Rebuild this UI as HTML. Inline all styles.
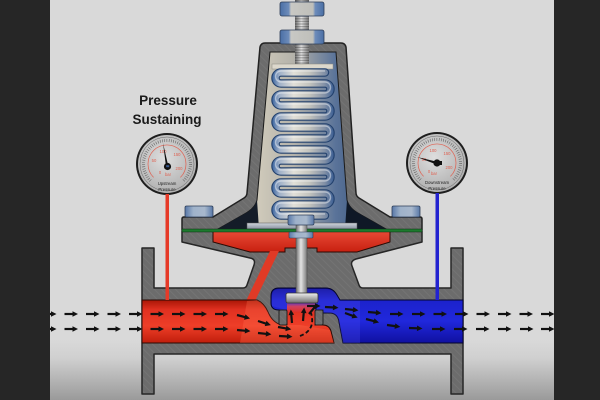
<!DOCTYPE html>
<html><head><meta charset="utf-8">
<style>
html,body{margin:0;padding:0;width:600px;height:400px;overflow:hidden;background:#d8d8d8}
svg{display:block}
</style></head><body>
<svg width="600" height="400" viewBox="0 0 600 400" xmlns="http://www.w3.org/2000/svg">
<defs>
 <linearGradient id="bgb" x1="0" y1="0" x2="0" y2="1">
  <stop offset="0" stop-color="#d9d9d9"/><stop offset="0.3" stop-color="#d0d0d0"/><stop offset="1" stop-color="#9a9a9a"/>
 </linearGradient>
 <radialGradient id="gface" cx="0.45" cy="0.4" r="0.7">
  <stop offset="0" stop-color="#dedede"/><stop offset="1" stop-color="#a9a9a9"/>
 </radialGradient>
 <linearGradient id="redp" x1="0" y1="0" x2="0" y2="1">
  <stop offset="0" stop-color="#a81606"/><stop offset="0.22" stop-color="#e03020"/><stop offset="0.6" stop-color="#ee3e28"/><stop offset="1" stop-color="#c01e0c"/>
 </linearGradient>
 <linearGradient id="redc" x1="0" y1="0" x2="0" y2="1">
  <stop offset="0" stop-color="#e84a36"/><stop offset="1" stop-color="#c82010"/>
 </linearGradient>
 <linearGradient id="bluep" x1="0" y1="0" x2="0" y2="1">
  <stop offset="0" stop-color="#0c0c8a"/><stop offset="0.22" stop-color="#1c22cc"/><stop offset="0.6" stop-color="#2028dc"/><stop offset="1" stop-color="#1010a0"/>
 </linearGradient>
 <linearGradient id="mix" x1="0" y1="0" x2="0" y2="1">
  <stop offset="0" stop-color="#4a3ad0"/><stop offset="0.4" stop-color="#d04060"/><stop offset="1" stop-color="#e03020"/>
 </linearGradient>
 <linearGradient id="cav" x1="0" y1="0" x2="1" y2="0">
  <stop offset="0" stop-color="#3d5a85"/><stop offset="0.08" stop-color="#8a96a6"/><stop offset="0.22" stop-color="#d2ccbc"/><stop offset="0.45" stop-color="#b4b2aa"/><stop offset="0.7" stop-color="#5a7399"/><stop offset="1" stop-color="#27456f"/>
 </linearGradient>
 <linearGradient id="sprg" gradientUnits="userSpaceOnUse" x1="272" y1="0" x2="334" y2="0">
  <stop offset="0" stop-color="#3a64a0"/><stop offset="0.12" stop-color="#9fb0c8"/><stop offset="0.35" stop-color="#e2e0d8"/><stop offset="0.6" stop-color="#c4c4be"/><stop offset="0.85" stop-color="#8290a6"/><stop offset="1" stop-color="#3a5e94"/>
 </linearGradient>
 <linearGradient id="rod" x1="0" y1="0" x2="1" y2="0">
  <stop offset="0" stop-color="#6f6f6f"/><stop offset="0.45" stop-color="#e4e4e4"/><stop offset="1" stop-color="#7a7a7a"/>
 </linearGradient>
 <linearGradient id="disc" x1="0" y1="0" x2="0" y2="1">
  <stop offset="0" stop-color="#f0f0f0"/><stop offset="0.5" stop-color="#b0b0b0"/><stop offset="1" stop-color="#6c6c6c"/>
 </linearGradient>
 <linearGradient id="nut" x1="0" y1="0" x2="1" y2="0">
  <stop offset="0" stop-color="#4a6fa5"/><stop offset="0.2" stop-color="#6d8cba"/><stop offset="0.25" stop-color="#c8c8c4"/><stop offset="0.75" stop-color="#bfbfba"/><stop offset="0.8" stop-color="#6d8cba"/><stop offset="1" stop-color="#4a6fa5"/>
 </linearGradient>
 <linearGradient id="bolt" x1="0" y1="0" x2="1" y2="0">
  <stop offset="0" stop-color="#5878a8"/><stop offset="0.3" stop-color="#9fb2ca"/><stop offset="0.7" stop-color="#a8b8cc"/><stop offset="1" stop-color="#5878a8"/>
 </linearGradient>
 <linearGradient id="plate" x1="0" y1="0" x2="0" y2="1">
  <stop offset="0" stop-color="#d0d6dc"/><stop offset="1" stop-color="#8890a0"/>
 </linearGradient>
 <pattern id="hatch" width="5" height="5" patternUnits="userSpaceOnUse" patternTransform="rotate(45)">
  <rect width="5" height="5" fill="#6c6c6c"/><rect width="5" height="1" fill="#747474"/>
 </pattern>
 <pattern id="thread" width="4" height="2.6" patternUnits="userSpaceOnUse">
  <rect width="4" height="1.2" fill="#000" fill-opacity="0.28"/>
 </pattern>
 <g id="ar">
  <path d="M0,0 H9" stroke="#111" stroke-width="2.2"/>
  <path d="M8,-2.8 L13.5,0 L8,2.8 Z" fill="#111"/>
 </g>
 <path id="coil" d="M325,72.5 H281 A5.5,5.5 0 0 0 281,83.5 H325 A5.5,5.5 0 0 1 325,94.5 H281 A5.5,5.5 0 0 0 281,105.5 H325 A5.5,5.5 0 0 1 325,116.5 H281 A5.5,5.5 0 0 0 281,127.5 H325 A5.5,5.5 0 0 1 325,138.5 H281 A5.5,5.5 0 0 0 281,149.5 H325 A5.5,5.5 0 0 1 325,160.5 H281 A5.5,5.5 0 0 0 281,171.5 H325 A5.5,5.5 0 0 1 325,182.5 H281 A5.5,5.5 0 0 0 281,193.5 H325 A5.5,5.5 0 0 1 325,204.5 H281 A5.5,5.5 0 0 0 281,215.5 H325" fill="none"/>
</defs>

<!-- background -->
<rect width="600" height="400" fill="#d9d9d9"/>
<rect y="340" width="600" height="60" fill="url(#bgb)"/>

<!-- title -->
<g font-family="'Liberation Sans', sans-serif" font-weight="bold" font-size="13.5" fill="#1a1a1a" text-anchor="middle">
 <text x="168" y="105">Pressure</text>
 <text x="167" y="124">Sustaining</text>
</g>

<!-- left gauge -->
<g transform="translate(167,164)">
 <circle r="31" fill="#1e1e1e"/>
 <circle r="29" fill="url(#gface)"/>
 <circle r="27" fill="none" stroke="#666" stroke-width="0.5"/>
 <path d="M-16.6,16.6 A23.5,23.5 0 1 1 16.6,16.6" fill="none" stroke="#333" stroke-width="3" pathLength="100" stroke-dasharray="0.35 1.65"/>
 <path d="M-13.4,13.4 A19,19 0 1 1 13.4,13.4" fill="none" stroke="#e06050" stroke-width="0.7"/>
 <g font-family="'Liberation Sans', sans-serif" font-size="4.2" fill="#e06050" text-anchor="middle">
  <text x="-7" y="10">0</text><text x="-13" y="-2">50</text><text x="-4" y="-11">100</text><text x="10" y="-8">150</text><text x="12" y="6">200</text>
  <text x="1" y="12">bar</text>
 </g>
 <g font-family="'Liberation Sans', sans-serif" font-size="4.3" fill="#222" text-anchor="middle">
  <text x="0" y="21">Upstream</text><text x="0" y="27">Pressure</text>
 </g>
 <path d="M-0.9,3 L-4,-21 L1.4,2.6 Z" fill="#111"/>
 <circle cx="0.5" cy="2.5" r="3.6" fill="#111"/>
 <rect x="-0.8" y="1.2" width="3" height="2" fill="#3a5a90"/>
</g>

<!-- right gauge -->
<g transform="translate(437,163)">
 <circle r="31" fill="#1e1e1e"/>
 <circle r="29" fill="url(#gface)"/>
 <circle r="27" fill="none" stroke="#666" stroke-width="0.5"/>
 <path d="M-16.6,16.6 A23.5,23.5 0 1 1 16.6,16.6" fill="none" stroke="#333" stroke-width="3" pathLength="100" stroke-dasharray="0.35 1.65"/>
 <path d="M-13.4,13.4 A19,19 0 1 1 13.4,13.4" fill="none" stroke="#e06050" stroke-width="0.7"/>
 <g font-family="'Liberation Sans', sans-serif" font-size="4.2" fill="#e06050" text-anchor="middle">
  <text x="-8" y="10">0</text><text x="-13" y="-2">50</text><text x="-4" y="-11">100</text><text x="10" y="-8">150</text><text x="12" y="6">200</text>
  <text x="-3" y="12">bar</text>
 </g>
 <g font-family="'Liberation Sans', sans-serif" font-size="4.3" fill="#222" text-anchor="middle">
  <text x="0" y="21">Downstream</text><text x="0" y="27">Pressure</text>
 </g>
 <path d="M-1,-1.5 L-20,-6 L0.2,1.8 Z" fill="#111"/>
 <circle cx="0" cy="0" r="3.6" fill="#111"/>
 <rect x="1" y="-2" width="4" height="4" fill="#111"/>
</g>

<!-- lower body -->
<path d="M142,248 L154,248 L154,288 L243,288 Q246,288 247,285 L254,265 Q256,259 250,258 L182,242 L182,231 L422,231 L422,242 L356,259 Q350,261 352,266 L359,285 Q360,288 363,288 L451,288 L451,248 L463,248 L463,394 L451,394 L451,354 L154,354 L154,394 L142,394 Z" fill="url(#hatch)" stroke="#262626" stroke-width="1.5" stroke-linejoin="round"/>

<!-- red chamber -->
<path d="M213,231 L390,231 L390,242 L357,252 L317,252 L317,248 L285,248 L285,252 L250,252 L213,242 Z" fill="url(#redc)" stroke="#2a0a05" stroke-width="1"/>
<!-- sensing passage -->
<path d="M270,251 L279,251 L255,301 L246,301 Z" fill="#e03a26"/>
<!-- red fluid -->
<path d="M142,300 L257,300 Q264,303 268,312 Q272,322 281,325 L287,325 L287,312 L315,312 L315,325 L323,325 Q329,325 331,331 L334,343 L142,343 Z" fill="url(#redp)" stroke="#2a0a05" stroke-width="1"/>
<path d="M247,301 L257,300 Q264,303 268,312 Q272,322 281,325 L300,325 L330,330 L334,343 L240,343 Z" fill="#ff7050" fill-opacity="0.3"/>
<!-- blue fluid -->
<path d="M271,296 Q271,288 279,288 L326,288 Q333,288 337,295 L340,300 L463,300 L463,343 L343,343 L339,322 Q338,314 331,313 L323,313 L323,310 L315,310 L315,312 L287,312 L287,310 L279,310 Q271,310 271,303 Z" fill="url(#bluep)" stroke="#05052a" stroke-width="1"/>
<path d="M272,296 Q272,289 279,289 L326,289 Q333,289 337,296 L340,301 L360,301 L360,343 L343,343 L339,322 Q338,314 331,313 L290,311 L272,306 Z" fill="#4a4aee" fill-opacity="0.3"/>
<!-- mixing zone -->
<rect x="287" y="302" width="28" height="11" fill="url(#mix)"/>
<!-- seat posts -->
<rect x="279" y="310" width="8" height="15" rx="1.5" fill="url(#hatch)" stroke="#222" stroke-width="1"/>
<rect x="315" y="310" width="8" height="15" rx="1.5" fill="url(#hatch)" stroke="#222" stroke-width="1"/>

<!-- sensing lines -->
<rect x="165.5" y="194" width="3.5" height="106" fill="#e63a28"/>
<rect x="435.5" y="193" width="3.5" height="107" fill="#2222d0"/>

<!-- upper housing / bonnet -->
<path d="M182,230 L182,219 Q182,217 184,217 L213,217 L244,198 Q247,196 247,193 L260,47 Q261,43 265,43 L341,43 Q345,43 346,47 L356,193 Q356,196 359,198 L390,217 L420,217 Q422,217 422,219 L422,230 Z" fill="url(#hatch)" stroke="#222" stroke-width="1.5" stroke-linejoin="round"/>
<path d="M270,52 L336,52 L347,200 Q349,208 358,213 L386,229 L218,229 L246,213 Q255,208 257,200 Z" fill="url(#cav)" stroke="#1a1a1a" stroke-width="1"/>
<path d="M218,229 L246,213 Q255,208 257,200 L259,229 Z" fill="#141c28"/>
<path d="M386,229 L358,213 Q349,208 347,200 L345,229 Z" fill="#0f1826"/>

<!-- rod -->
<rect x="295" y="0" width="14" height="70" fill="url(#rod)"/>
<rect x="295" y="0" width="14" height="70" fill="url(#thread)"/>
<!-- spring top plate -->
<rect x="272" y="64" width="61" height="5" fill="#dcd8cc" stroke="#8a8a80" stroke-width="0.5"/>

<!-- spring -->
<use href="#coil" stroke="#24426e" stroke-width="8.5" stroke-linecap="round"/>
<use href="#coil" stroke="url(#sprg)" stroke-width="6.2" stroke-linecap="round"/>
<use href="#coil" stroke="#ffffff" stroke-opacity="0.45" stroke-width="1.4" transform="translate(0,-1.6)"/>

<!-- nuts on top -->
<rect x="280" y="2" width="44" height="14" rx="2" fill="url(#nut)" stroke="#2e3e58" stroke-width="0.8"/>
<rect x="280" y="30" width="44" height="14" rx="2" fill="url(#nut)" stroke="#2e3e58" stroke-width="0.8"/>

<!-- diaphragm plate & green diaphragm -->
<rect x="247" y="223" width="110" height="6" fill="url(#plate)" stroke="#555" stroke-width="0.5"/>
<rect x="182" y="229" width="240" height="3" fill="#1d7a2e" stroke="#0d2a10" stroke-width="0.5"/>

<!-- stem -->
<rect x="296" y="222" width="11" height="72" fill="url(#rod)" stroke="#444" stroke-width="0.5"/>
<rect x="288" y="215" width="26" height="10" rx="1.5" fill="url(#bolt)" stroke="#2e3e58" stroke-width="0.7"/>
<rect x="289" y="232" width="24" height="6" rx="1" fill="url(#bolt)" stroke="#2e3e58" stroke-width="0.6"/>
<rect x="286" y="293" width="32" height="10" rx="2" fill="url(#disc)" stroke="#333" stroke-width="0.8"/>

<!-- flange bolts -->
<rect x="185" y="206" width="28" height="11" rx="1.5" fill="url(#bolt)" stroke="#2e3e58" stroke-width="0.8"/>
<rect x="392" y="206" width="28" height="11" rx="1.5" fill="url(#bolt)" stroke="#2e3e58" stroke-width="0.8"/>

<!-- flow arrows -->
<g>
 <use href="#ar" transform="translate(43,314)"/><use href="#ar" transform="translate(64.5,314)"/><use href="#ar" transform="translate(86,314)"/><use href="#ar" transform="translate(107.5,314)"/><use href="#ar" transform="translate(129,314)"/><use href="#ar" transform="translate(150.5,314)"/><use href="#ar" transform="translate(172,314)"/><use href="#ar" transform="translate(193.5,314)"/><use href="#ar" transform="translate(215,314)"/>
 <use href="#ar" transform="translate(237,315) rotate(15)"/><use href="#ar" transform="translate(258,321) rotate(18)"/><use href="#ar" transform="translate(278,327) rotate(10)"/>
 <use href="#ar" transform="translate(43,329)"/><use href="#ar" transform="translate(64.5,329)"/><use href="#ar" transform="translate(86,329)"/><use href="#ar" transform="translate(107.5,329)"/><use href="#ar" transform="translate(129,329)"/><use href="#ar" transform="translate(150.5,329)"/><use href="#ar" transform="translate(172,329)"/><use href="#ar" transform="translate(193.5,329)"/><use href="#ar" transform="translate(215,329)"/>
 <use href="#ar" transform="translate(237,330) rotate(5)"/><use href="#ar" transform="translate(258,333) rotate(6)"/><use href="#ar" transform="translate(279,336) rotate(3)"/>
 <use href="#ar" transform="translate(292,323) rotate(-95)"/><use href="#ar" transform="translate(303,321) rotate(-85)"/><use href="#ar" transform="translate(309,314) rotate(-50)"/>
 <path d="M300,336 Q316,330 311,313" fill="none" stroke="#111" stroke-width="1.8" stroke-dasharray="4 2.5"/>
 <use href="#ar" transform="translate(307,306)"/><use href="#ar" transform="translate(325,307) rotate(3)"/><use href="#ar" transform="translate(345,309) rotate(6)"/><use href="#ar" transform="translate(368,312) rotate(5)"/><use href="#ar" transform="translate(390,314)"/><use href="#ar" transform="translate(412,314)"/><use href="#ar" transform="translate(433.5,314)"/><use href="#ar" transform="translate(455,314)"/><use href="#ar" transform="translate(476.5,314)"/><use href="#ar" transform="translate(498,314)"/><use href="#ar" transform="translate(519.5,314)"/><use href="#ar" transform="translate(541,314)"/>
 <use href="#ar" transform="translate(345,313) rotate(20)"/><use href="#ar" transform="translate(366,319) rotate(15)"/><use href="#ar" transform="translate(387,325) rotate(8)"/><use href="#ar" transform="translate(409,328) rotate(2)"/><use href="#ar" transform="translate(432,329)"/><use href="#ar" transform="translate(454,329)"/><use href="#ar" transform="translate(476,329)"/><use href="#ar" transform="translate(498,329)"/><use href="#ar" transform="translate(520,329)"/><use href="#ar" transform="translate(541,329)"/>
</g>

<!-- side bars -->
<rect x="0" y="0" width="50" height="400" fill="#262626"/>
<rect x="554" y="0" width="46" height="400" fill="#262626"/>
</svg>
</body></html>
